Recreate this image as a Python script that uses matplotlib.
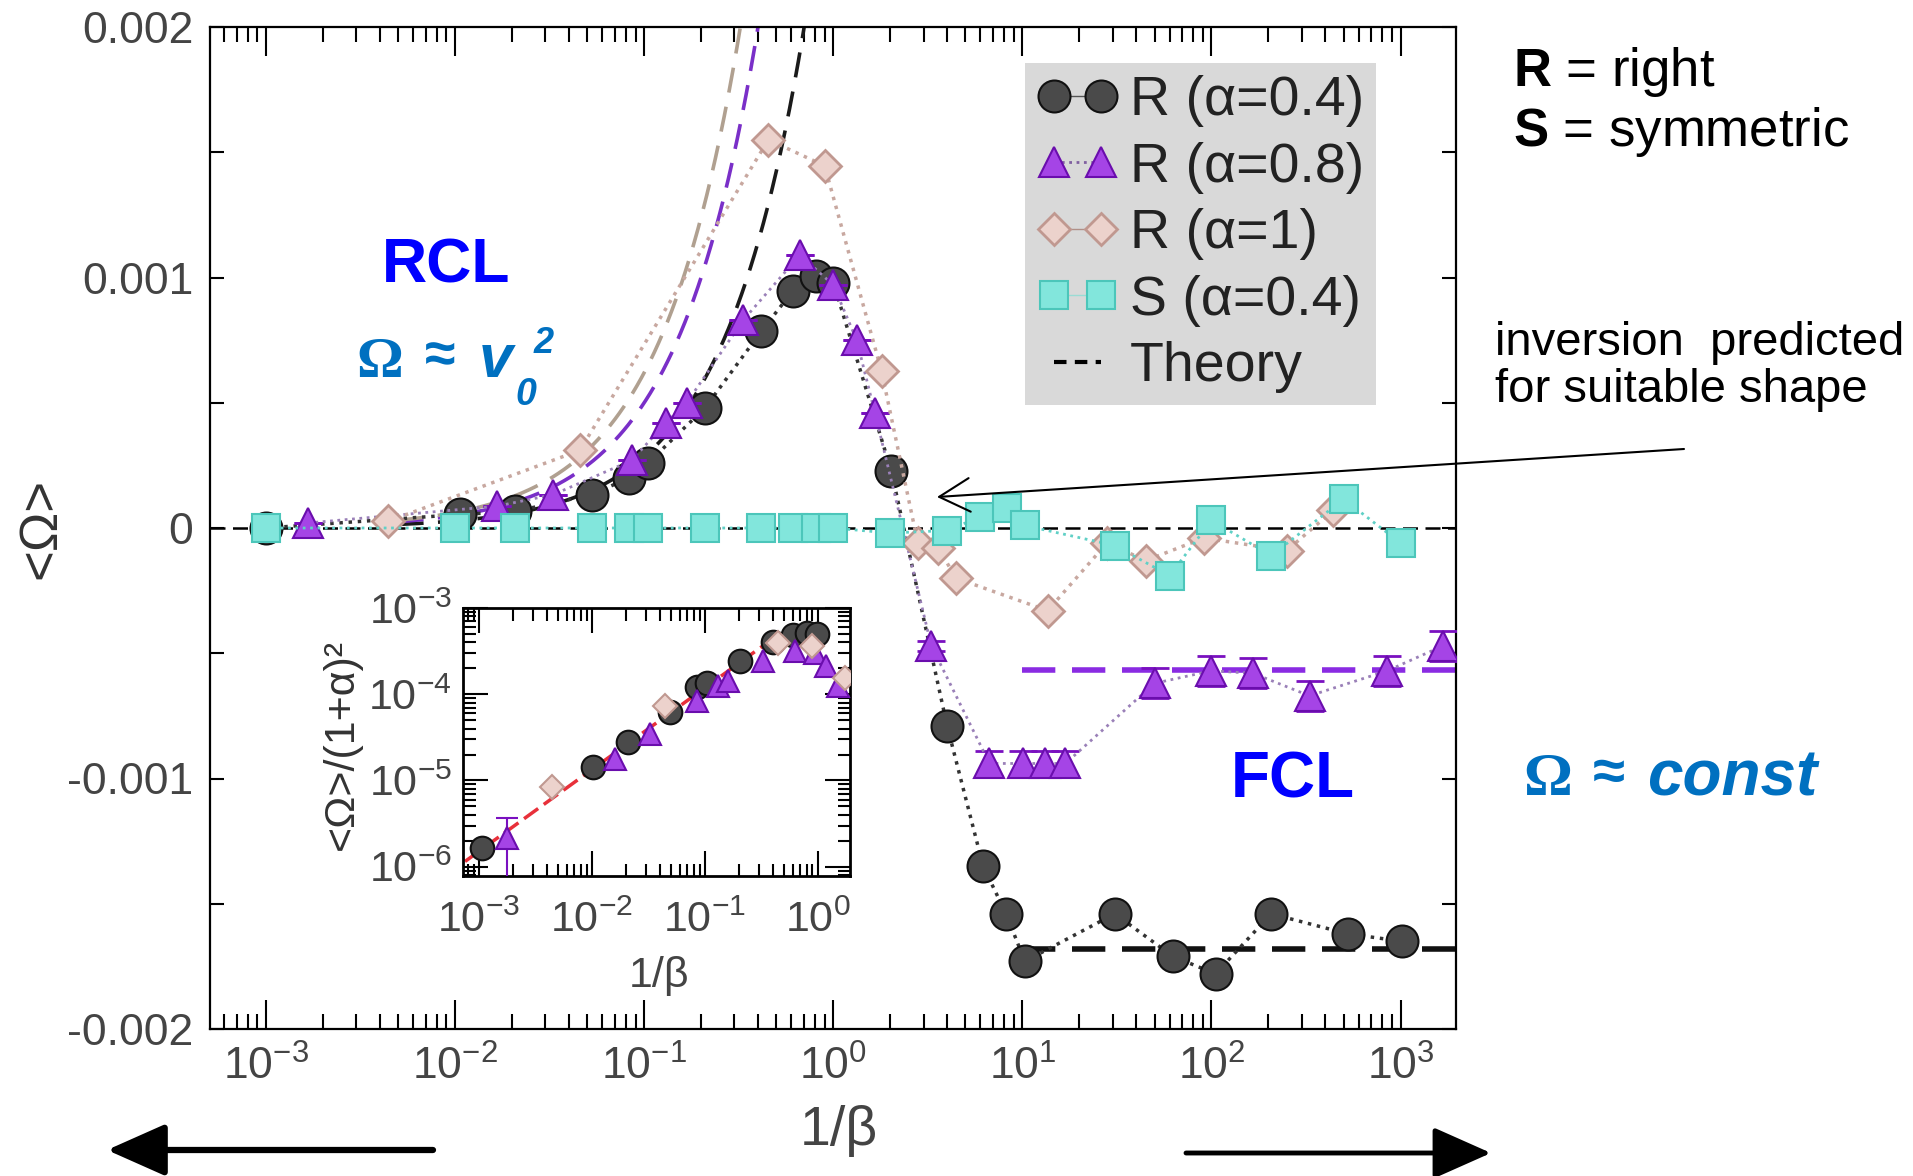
import numpy as np
import matplotlib
matplotlib.use('Agg')
import matplotlib.pyplot as plt
from matplotlib.lines import Line2D
from matplotlib.ticker import LogLocator, NullFormatter, MultipleLocator, FixedLocator

plt.rcParams['font.family'] = ['Liberation Sans', 'DejaVu Sans']
plt.rcParams['mathtext.fontset'] = 'custom'
plt.rcParams['mathtext.rm'] = 'Liberation Sans'
plt.rcParams['mathtext.it'] = 'Liberation Sans:italic'
plt.rcParams['mathtext.bf'] = 'Liberation Sans:bold'

# ---------------- data (main panel) ----------------
x_R04 = [0.001, 0.0106, 0.0207, 0.0527, 0.083, 0.105, 0.21, 0.417, 0.61, 0.81, 1.0, 2.03,
         4.0, 6.2, 8.2, 10.3, 30.8, 62.5, 105, 207, 525, 1020]
y_R04 = [0.0, 0.000054, 0.000066, 0.000133, 0.0002, 0.00026, 0.00048, 0.000786, 0.000946,
         0.001006, 0.00098, 0.000226, -0.00079, -0.00135, -0.00154, -0.00173, -0.00154,
         -0.00171, -0.00178, -0.00154, -0.00162, -0.00165]

x_R08 = [0.00167, 0.0166, 0.033, 0.086, 0.13, 0.168, 0.334, 0.667, 1.0, 1.33, 1.66, 3.3,
         6.7, 10.1, 13.2, 16.9, 50, 100, 166, 330, 850, 1680]
y_R08 = [0.00002, 0.000087, 0.000133, 0.00027, 0.00042, 0.0005, 0.00083, 0.00109, 0.00097,
         0.00075, 0.00046, -0.00047, -0.00094, -0.00094, -0.00094, -0.00094, -0.00062,
         -0.00057, -0.00058, -0.00067, -0.00057, -0.00047]
err_R08 = [0, 0, 0, 0, 0, 0, 0, 0, 0, 0, 0, 0.00002,
           0.00005, 0.00005, 0.00005, 0.00005, 0.00006, 0.00006, 0.00006, 0.00006, 0.00006, 0.00006]

x_R1 = [0.0044, 0.0457, 0.454, 0.9, 1.8, 2.8, 3.6, 4.45, 13.6, 28, 45, 91, 250, 440]
y_R1 = [0.000026, 0.00031, 0.00155, 0.001446, 0.000626, -0.00006, -0.00008, -0.0002,
        -0.00033, -0.00006, -0.00013, -0.00004, -0.00009, 0.00007]

x_S04 = [0.001, 0.01, 0.0207, 0.0527, 0.083, 0.105, 0.21, 0.417, 0.61, 0.81, 1.0, 2.0,
         4.0, 6.0, 8.3, 10.3, 30.8, 60, 100, 207, 500, 1000]
y_S04 = [0, 0, 0, 0, 0, 0, 0, 0, 0, 0, 0, -0.00002, -0.00001, 0.000045, 0.00008, 0.00001,
         -0.00007, -0.00019, 0.00003, -0.00011, 0.000115, -0.00006]

# theory: RCL  <Omega> = k * (1/beta); FCL constant levels
theory_k = [0.00285, 0.0050, 0.0062]            # alpha = 0.4, 0.8, 1
theory_k_colors = ['#1a1a1a', '#7a2fc8', '#b0a090']
theory_fcl_level = [-0.00168, -0.000565]          # alpha = 0.4, 0.8
theory_fcl_colors = ['#111111', '#8a2be2']
theory_fcl_x = [10, 1963]

# ---------------- data (inset) ----------------
xi_R04 = [0.00106, 0.0103, 0.021, 0.049, 0.085, 0.105, 0.206, 0.4, 0.61, 0.8, 0.99]
yi_R04 = [1.63e-6, 1.43e-5, 2.77e-5, 6.15e-5, 1.2e-4, 1.35e-4, 2.43e-4, 4.0e-4, 4.9e-4, 5.1e-4, 4.95e-4]
xi_R08 = [0.00176, 0.0161, 0.033, 0.085, 0.13, 0.16, 0.33, 0.63, 0.95, 1.2, 1.53]
yi_R08 = [2.13e-6, 1.78e-5, 3.47e-5, 8.4e-5, 1.25e-4, 1.43e-4, 2.43e-4, 3.2e-4, 3.0e-4, 2.1e-4, 1.25e-4]
xi_R1 = [0.0044, 0.0446, 0.45, 0.9, 1.75]
yi_R1 = [8.4e-6, 7.3e-5, 3.9e-4, 3.6e-4, 1.55e-4]
xi_line = [7.5e-4, 0.42]
yi_line = [1.15e-6, 4.6e-4]

ytick_vals = [-0.002, -0.001, 0.0, 0.001, 0.002]
ytick_labels = ['-0.002', '-0.001', '0', '0.001', '0.002']
xtick_vals = [1e-3, 1e-2, 1e-1, 1e0, 1e1, 1e2, 1e3]
xtick_labels = [r'$10^{-3}$', r'$10^{-2}$', r'$10^{-1}$', r'$10^{0}$', r'$10^{1}$', r'$10^{2}$', r'$10^{3}$']
xi_tick_vals = [1e-3, 1e-2, 1e-1, 1e0]
xi_tick_labels = [r'$10^{-3}$', r'$10^{-2}$', r'$10^{-1}$', r'$10^{0}$']
yi_tick_vals = [1e-6, 1e-5, 1e-4, 1e-3]
yi_tick_labels = [r'$10^{-6}$', r'$10^{-5}$', r'$10^{-4}$', r'$10^{-3}$']

# ---------------- styles ----------------
st_R04 = dict(marker='o', ms=23, mfc='#4a4a4a', mec='#111111', mew=1.5)
st_R08 = dict(marker='^', ms=22, mfc='#a544e6', mec='#6a0dad', mew=1.5)
st_R1 = dict(marker='D', ms=16, mfc='#ecd2cc', mec='#c09890', mew=2)
st_S04 = dict(marker='s', ms=20, mfc='#82e6dc', mec='#4cc6ba', mew=1.5)
TICKC = '#444444'

W, H = 1913, 1176
fig = plt.figure(figsize=(W / 100, H / 100), dpi=100)
ax = fig.add_axes([210 / W, (H - 1029) / H, 1246 / W, 1002 / H])
ax.set_xscale('log')
ax.set_xlim(5.06e-4, 1963)
ax.set_ylim(-0.002, 0.002)

# zero theory line (S)
ax.axhline(0, color='black', lw=1.8, dashes=(6, 3), zorder=2)

# RCL theory curves
xt = np.logspace(-2.3, 0, 300)
for k, c in zip(theory_k, theory_k_colors):
    ax.plot(xt, k * xt, color=c, lw=2.6, dashes=(7, 4), zorder=2)
# FCL theory levels
for lev, c in zip(theory_fcl_level, theory_fcl_colors):
    ax.plot(theory_fcl_x, [lev, lev], color=c, lw=4, dashes=(6, 3), zorder=2)

# data series
ax.plot(x_R04, y_R04, ls=':', lw=2.5, color='#333333', zorder=3, **st_R04)
ax.errorbar(x_R08, y_R08, yerr=err_R08, fmt='none', ecolor='#7a10c0', elinewidth=2,
            capsize=10, capthick=2, zorder=4)
ax.plot(x_R08, y_R08, ls=':', lw=2, color='#9a80b8', zorder=4, **st_R08)
ax.plot(x_R1, y_R1, ls=':', lw=2.5, color='#c8a8a0', zorder=5, **st_R1)
ax.plot(x_S04, y_S04, ls=':', lw=2, color='#60d0c6', zorder=6, **st_S04)

# axes styling
ax.set_xticks(xtick_vals)
ax.set_xticklabels(xtick_labels)
ax.xaxis.set_minor_locator(LogLocator(base=10, subs=np.arange(2, 10), numticks=30))
ax.xaxis.set_minor_formatter(NullFormatter())
ax.set_yticks(ytick_vals)
ax.set_yticklabels(ytick_labels)
ax.yaxis.set_minor_locator(MultipleLocator(0.0005))
ax.tick_params(axis='both', which='both', direction='in', top=True, right=True,
               width=1.5, colors='black', labelcolor=TICKC)
ax.tick_params(axis='x', which='major', length=21, labelsize=32, pad=12)
ax.tick_params(axis='x', which='minor', length=11)
ax.tick_params(axis='y', which='both', length=10, labelsize=32, pad=12)
for s in ax.spines.values():
    s.set_linewidth(1.6)

ax.set_ylabel('<Ω>', fontsize=38, color='#333333')
ax.yaxis.set_label_coords(-0.115, 0.5)
ax.set_xlabel('1/β', fontsize=40, color='#444444')
ax.xaxis.set_label_coords(0.505, -0.076)

# legend
handles = [
    Line2D([], [], ls='-', lw=1, color='#555555', **st_R04),
    Line2D([], [], ls=':', lw=2, color='#8060a0', **st_R08),
    Line2D([], [], ls='-', lw=1, color='#b09088', **st_R1),
    Line2D([], [], ls='-', lw=1, color='#9adcd4', **st_S04),
    Line2D([], [], ls='--', lw=3, color='black', dashes=(3, 2)),
]
labels = ['R (α=0.4)', 'R (α=0.8)', 'R (α=1)', 'S (α=0.4)', 'Theory']
leg = ax.legend(handles, labels, loc='upper left', bbox_to_anchor=(0.654, 0.964),
                borderaxespad=0, frameon=True, facecolor='#d9d9d9', edgecolor='none',
                framealpha=1, fancybox=False, fontsize=40, numpoints=2, handlelength=1.45,
                handletextpad=0.22, labelspacing=0.26, borderpad=0.22)
for t in leg.get_texts():
    t.set_color('#222222')
leg.set_zorder(8)

# ---------------- inset ----------------
axin = fig.add_axes([463 / W, (H - 876) / H, 387 / W, 268 / H])
axin.set_zorder(10)
axin.set_facecolor('white')
axin.set_xscale('log')
axin.set_yscale('log')
axin.set_xlim(7.2e-4, 1.94)
axin.set_ylim(7.8e-7, 9.7e-4)
axin.plot(xi_line, yi_line, color='#e8303a', lw=2.5, dashes=(5, 2), zorder=2)
axin.errorbar([xi_R08[0]], [yi_R08[0]], yerr=[[1.9e-6], [1.5e-6]], fmt='none',
              ecolor='#7a10c0', elinewidth=1.5, capsize=8, capthick=1.5, zorder=3)
axin.plot(xi_R04, yi_R04, ls='none', marker='o', ms=17, mfc='#4a4a4a', mec='#111111', mew=1.5, zorder=3)
axin.plot(xi_R08, yi_R08, ls='none', marker='^', ms=16, mfc='#a544e6', mec='#6a0dad', mew=1.5, zorder=4)
axin.plot(xi_R1, yi_R1, ls='none', marker='D', ms=12, mfc='#ecd2cc', mec='#c09890', mew=1.5, zorder=5)
axin.set_xticks(xi_tick_vals)
axin.set_xticklabels(xi_tick_labels)
axin.set_yticks(yi_tick_vals)
axin.set_yticklabels(yi_tick_labels)
axin.xaxis.set_minor_locator(LogLocator(base=10, subs=np.arange(2, 10), numticks=30))
axin.yaxis.set_minor_locator(LogLocator(base=10, subs=np.arange(2, 10), numticks=30))
axin.xaxis.set_minor_formatter(NullFormatter())
axin.yaxis.set_minor_formatter(NullFormatter())
axin.tick_params(axis='both', which='both', direction='in', top=True, right=True,
                 width=1.5, labelcolor=TICKC, labelsize=31)
axin.tick_params(axis='both', which='major', length=18)
axin.tick_params(axis='both', which='minor', length=9)
axin.tick_params(axis='x', which='major', pad=18)
axin.tick_params(axis='y', which='major', pad=8)
for s in axin.spines.values():
    s.set_linewidth(2)
axin.set_ylabel('<Ω>/(1+α)²', fontsize=31, color='#333333')
axin.yaxis.set_label_coords(-0.262, 0.49)
axin.set_xlabel('1/β', fontsize=31, color='#444444')
axin.xaxis.set_label_coords(0.506, -0.30)

# ---------------- annotations ----------------
def fx(px):
    return px / W

def fy(py):
    return 1 - py / H

BLUE = '#0000ff'
LBLUE = '#0070c0'
fig.text(fx(446), fy(266), 'RCL', color=BLUE, fontsize=45, fontweight='bold', ha='center', va='center')
fig.text(fx(380), fy(377), 'Ω', color=LBLUE, fontsize=42, fontweight='bold',
         family='Liberation Serif', ha='center', va='baseline')
fig.text(fx(440), fy(372), '≈', color=LBLUE, fontsize=40, fontweight='bold', ha='center', va='baseline')
fig.text(fx(496), fy(377), 'v', color=LBLUE, fontsize=44, fontweight='bold', style='italic',
         ha='center', va='baseline')
fig.text(fx(526), fy(405), '0', color=LBLUE, fontsize=27, fontweight='bold', style='italic',
         ha='center', va='baseline')
fig.text(fx(544), fy(353), '2', color=LBLUE, fontsize=26, fontweight='bold', style='italic',
         ha='center', va='baseline')

fig.text(fx(1293), fy(780), 'FCL', color=BLUE, fontsize=46, fontweight='bold', ha='center', va='center')
fig.text(fx(1548), fy(795), 'Ω', color=LBLUE, fontsize=44, fontweight='bold',
         family='Liberation Serif', ha='center', va='baseline')
fig.text(fx(1609), fy(790), '≈', color=LBLUE, fontsize=42, fontweight='bold', ha='center', va='baseline')
fig.text(fx(1647), fy(796), 'const', color=LBLUE, fontsize=46, fontweight='bold', style='italic',
         ha='left', va='baseline')

fig.text(fx(1513), fy(86), r'$\mathbf{R}$ = right', fontsize=38, color='black', ha='left', va='baseline')
fig.text(fx(1513), fy(146), r'$\mathbf{S}$ = symmetric', fontsize=38, color='black', ha='left', va='baseline')
fig.text(fx(1495), fy(355), 'inversion  predicted', fontsize=34, color='black', ha='left', va='baseline')
fig.text(fx(1495), fy(402), 'for suitable shape', fontsize=34, color='black', ha='left', va='baseline')

fig.add_artist(matplotlib.patches.FancyArrowPatch(
    (fx(1684), fy(449)), (fx(937), fy(497)), transform=fig.transFigure,
    arrowstyle='->,head_length=1.0,head_width=0.55', mutation_scale=22, lw=1.5,
    color='black', shrinkA=0, shrinkB=0))

fig.add_artist(matplotlib.patches.FancyArrowPatch(
    (fx(433), fy(1150)), (fx(107), fy(1150)), transform=fig.transFigure,
    arrowstyle='-|>,head_length=1.8,head_width=0.8', mutation_scale=20, lw=4.5,
    color='black', shrinkA=0, shrinkB=0))
fig.add_artist(matplotlib.patches.FancyArrowPatch(
    (fx(1186), fy(1153)), (fx(1491), fy(1153)), transform=fig.transFigure,
    arrowstyle='-|>,head_length=1.8,head_width=0.8', mutation_scale=20, lw=3.5,
    color='black', shrinkA=0, shrinkB=0))

fig.savefig('out.png', dpi=100)
